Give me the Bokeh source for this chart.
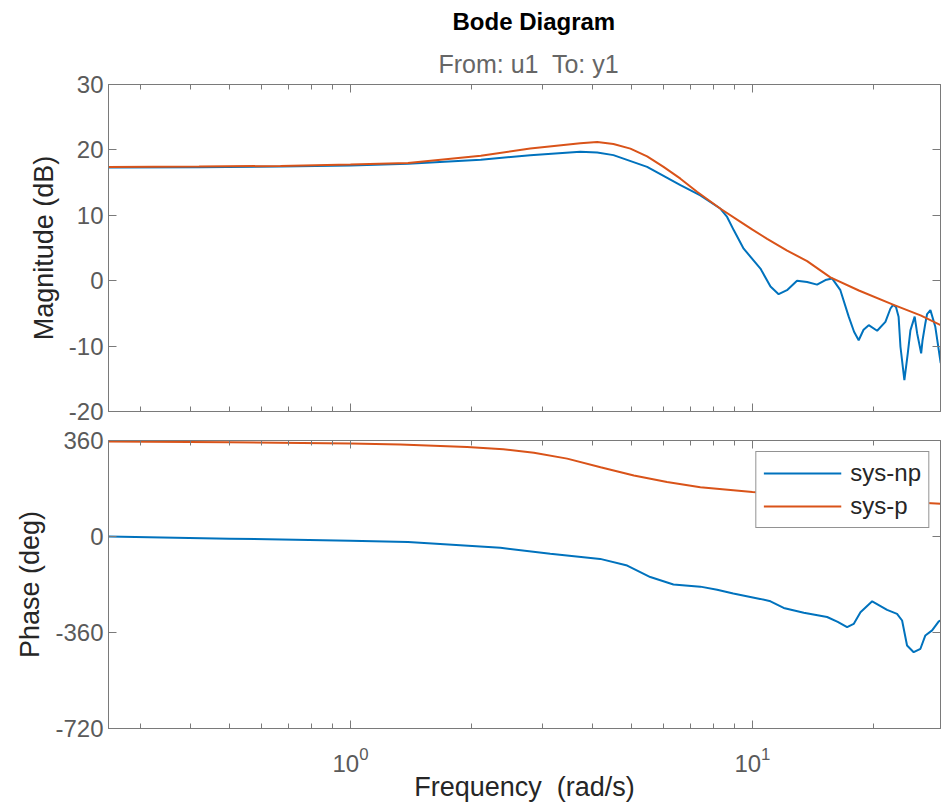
from bokeh.plotting import figure
from bokeh.layouts import column
from bokeh.models import (Title, LogAxis, LinearAxis, FixedTicker, Range1d,
                          Legend, LegendItem, LogTickFormatter, CustomJSTickFormatter)
from bokeh.embed import file_html
from bokeh.resources import INLINE

# ---------------- data ----------------
# Magnitude, sys-p (orange)
freq_mag_p = [0.25, 0.42, 0.67, 1.0, 1.39, 2.11, 2.80, 3.73, 4.11, 4.51, 4.97, 5.47,
              6.01, 6.62, 7.28, 8.33, 9.34, 10.0, 10.88, 12.2, 13.68, 15.63, 18.4,
              22.46, 26.2, 29.4]
mag_p = [17.4, 17.45, 17.55, 17.75, 18.0, 19.1, 20.2, 21.0, 21.2, 20.9, 20.2, 19.0,
         17.4, 15.6, 13.6, 11.0, 9.0, 7.8, 6.4, 4.6, 3.0, 0.5, -1.5,
         -3.7, -5.3, -6.8]

# Magnitude, sys-np (blue)
freq_mag_np = [0.25, 0.42, 0.67, 1.0, 1.39, 2.11, 2.80, 3.73, 4.11, 4.51, 5.47, 6.62,
               7.42, 8.33, 8.65, 8.99, 9.51, 10.47, 11.09, 11.62, 12.19, 12.91, 13.68,
               14.48, 15.19, 15.78, 16.55, 17.36, 17.9, 18.38, 18.9, 19.47, 20.43,
               21.42, 22.05, 22.39, 22.75, 23.1, 23.35, 23.88, 24.35, 24.72, 25.33,
               25.7, 26.29, 26.5, 26.93, 27.2, 27.72, 28.51, 29.08, 29.4]
mag_np = [17.3, 17.35, 17.45, 17.6, 17.9, 18.5, 19.2, 19.7, 19.6, 19.2, 17.4, 14.6,
          13.05, 11.0, 9.75, 7.7, 4.9, 1.85, -0.9, -2.06, -1.45, 0.0, -0.2,
          -0.6, 0.1, 0.35, -1.45, -5.5, -7.8, -9.1, -7.5, -6.8, -7.65,
          -6.3, -4.25, -3.7, -4.0, -5.5, -10.1, -15.2, -11.1, -7.6, -5.5,
          -8.1, -11.1, -9.1, -6.5, -5.1, -4.5, -7.05, -10.6, -12.6]

# Phase, sys-p (orange)
freq_ph_p = [0.25, 0.5, 1.0, 1.33, 1.95, 2.4, 2.86, 3.46, 4.19, 5.07, 6.13, 7.42, 10.0,
             14.0, 20.0, 25.0, 29.4]
phase_p = [356, 353, 349, 345, 336, 327, 314, 292, 260, 229, 204, 185, 167,
           150, 136, 128, 123]

# Phase, sys-np (blue)
freq_ph_np = [0.25, 0.5, 1.0, 1.39, 2.36, 3.14, 4.18, 4.88, 5.57, 6.36, 7.42, 8.17,
              8.96, 10.45, 11.09, 11.96, 13.42, 15.34, 16.3, 17.2, 17.86, 18.57,
              19.86, 21.63, 22.9, 23.57, 24.25, 25.19, 26.18, 26.93, 27.99, 29.08, 29.4]
phase_np = [0, -8, -16, -21, -42, -65, -84, -109, -152, -180, -188, -200,
            -214, -234, -243, -268, -286, -302, -320, -340, -328, -284,
            -243, -275, -290, -315, -409, -434, -421, -371, -352, -318, -315]

x_major_ticks = [1, 10]
x_minor_ticks = [0.3, 0.4, 0.5, 0.6, 0.7, 0.8, 0.9, 2, 3, 4, 5, 6, 7, 8, 9, 20]
mag_ticks = [-20, -10, 0, 10, 20, 30]
phase_ticks = [-720, -360, 0, 360]
series_labels = ["sys-np", "sys-p"]
title_text = "Bode Diagram"
subtitle_text = "From: u1\u00a0 To: y1"
xlabel_text = "Frequency\u00a0 (rad/s)"

# ---------------- style ----------------
FONT = "Liberation Sans"
BLUE = "#0072BD"
ORANGE = "#D95319"
AXC = "#7a7a7a"
TICKC = "#5a5a5a"
LABC = "#262626"
X_RANGE = (0.25, 29.37)


def style_axis(ax, labels=True, minor=False):
    ax.axis_line_color = AXC
    ax.major_tick_line_color = AXC
    ax.major_tick_in = 8
    ax.major_tick_out = 0
    if minor:
        ax.minor_tick_line_color = AXC
        ax.minor_tick_in = 5
        ax.minor_tick_out = 0
    else:
        ax.minor_tick_line_color = None
    ax.major_label_text_font = FONT
    ax.major_label_text_color = TICKC
    if labels:
        ax.major_label_text_font_size = "24px"
    else:
        ax.major_label_text_font_size = "1px"
        ax.major_label_text_alpha = 0
        ax.major_label_standoff = 0
    ax.axis_label_text_font = FONT
    ax.axis_label_text_font_style = "normal"
    ax.axis_label_text_color = LABC
    ax.axis_label_text_font_size = "27px"


def make_fig(yr, yticks, ylabel, top, bottom, frame_h):
    p = figure(x_axis_type="log", x_range=Range1d(*X_RANGE), y_range=Range1d(*yr),
               frame_width=832, frame_height=frame_h, output_backend="svg",
               toolbar_location=None, min_border_left=108, min_border_right=1,
               min_border_top=top, min_border_bottom=bottom)
    p.xgrid.visible = False
    p.ygrid.visible = False
    p.outline_line_color = AXC
    p.background_fill_color = "white"
    p.border_fill_color = "white"
    xt = FixedTicker(ticks=x_major_ticks, minor_ticks=x_minor_ticks)
    yt = FixedTicker(ticks=yticks)
    p.xaxis.ticker = xt
    p.yaxis.ticker = yt
    for ax in p.xaxis:
        style_axis(ax, labels=True, minor=True)
    for ax in p.yaxis:
        style_axis(ax, labels=True, minor=False)
    p.yaxis.formatter = CustomJSTickFormatter(code="return String(Math.round(tick));")
    p.yaxis.axis_label = ylabel
    p.yaxis.axis_label_standoff = 7
    top_ax = LogAxis(ticker=xt)
    style_axis(top_ax, labels=False, minor=True)
    p.add_layout(top_ax, "above")
    right_ax = LinearAxis(ticker=yt)
    style_axis(right_ax, labels=False, minor=False)
    p.add_layout(right_ax, "right")
    return p


# Magnitude panel
p1 = make_fig((-20, 30), mag_ticks, "Magnitude (dB)", 84, 14, 327)
style_axis(p1.below[0], labels=False, minor=True)
p1.line(freq_mag_np, mag_np, line_color=BLUE, line_width=2)
p1.line(freq_mag_p, mag_p, line_color=ORANGE, line_width=2)

sub = Title(text=subtitle_text, align="left", text_font=FONT,
            text_font_size="25px", text_font_style="normal", text_color="#666666",
            standoff=14, offset=330)
p1.add_layout(sub, "above")
main = Title(text=title_text, align="left", text_font=FONT,
             text_font_size="24px", text_font_style="bold", text_color="#000000",
             standoff=11, offset=344)
p1.add_layout(main, "above")

# Phase panel
p2 = make_fig((-720, 360), phase_ticks, "Phase (deg)", 15, 76, 288)
p2.below[0].formatter = LogTickFormatter()
p2.below[0].major_label_standoff = 18
p2.below[0].axis_label = xlabel_text
p2.below[0].axis_label_standoff = -3
r_np = p2.line(freq_ph_np, phase_np, line_color=BLUE, line_width=2)
r_p = p2.line(freq_ph_p, phase_p, line_color=ORANGE, line_width=2)

legend = Legend(items=[LegendItem(label=series_labels[0], renderers=[r_np]),
                       LegendItem(label=series_labels[1], renderers=[r_p])],
                location="top_right", margin=11)
legend.label_text_font = FONT
legend.label_text_font_size = "24px"
legend.label_text_color = LABC
legend.glyph_width = 78
legend.glyph_height = 24
legend.label_height = 24
legend.label_standoff = 9
legend.spacing = 5
legend.padding = 7
legend.border_line_color = "#262626"
legend.border_line_width = 1
legend.background_fill_color = "white"
legend.background_fill_alpha = 1.0
p2.add_layout(legend)

layout = column(p1, p2, spacing=0)
open("out.html", "w").write(file_html(layout, INLINE))
